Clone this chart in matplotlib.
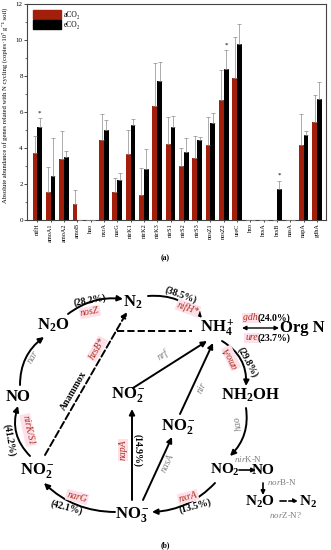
import matplotlib
matplotlib.use("Agg")
import matplotlib.pyplot as plt
import numpy as np
from matplotlib.patches import FancyArrowPatch, Patch

plt.rcParams['font.family'] = ['Liberation Serif', 'DejaVu Serif']
plt.rcParams['mathtext.fontset'] = 'custom'
plt.rcParams['mathtext.rm'] = 'Liberation Serif:bold'
plt.rcParams['mathtext.bf'] = 'Liberation Serif:bold'
plt.rcParams['mathtext.it'] = 'Liberation Serif:italic'

genes = ["nifH", "amoA1", "amoA2", "amoB", "hao", "nxrA", "narG", "nirK1", "nirK2",
         "nirK3", "nirS1", "nirS2", "nirS3", "nosZ1", "nosZ2", "ureC", "hzo", "hzsA",
         "hzsB", "nasA", "napA", "gdhA"]
aco2 = [3.74, 1.55, 3.40, 0.90, 0, 4.43, 1.55, 3.65, 1.37, 6.35, 4.21, 2.98, 3.47,
        4.15, 6.65, 7.88, 0, 0, 0, 0, 4.17, 5.43]
aco2_top = [4.68, 2.95, 4.97, 1.68, 0, 5.87, 2.32, 4.98, 2.88, 8.70, 5.72, 4.02, 4.64,
            5.74, 8.35, 10.15, 0, 0, 0, 0, 5.90, 6.94]
eco2 = [5.16, 2.42, 3.50, 0, 0, 5.00, 2.20, 5.27, 2.85, 7.72, 5.18, 3.76, 4.44,
        5.37, 8.38, 9.80, 0, 0, 1.70, 0, 4.72, 6.74]
eco2_top = [5.66, 4.55, 3.84, 0, 0, 5.55, 2.62, 5.60, 3.94, 8.78, 5.78, 4.55, 4.60,
            5.93, 9.44, 10.90, 0, 0, 2.18, 0, 4.94, 7.65]
signif = ["nifH", "nosZ2", "hzsB"]

W, H = 331, 550
fig = plt.figure(figsize=(W / 100, H / 100), dpi=100)

# ---------------- diagram axes (pixel coords) ----------------
axd = fig.add_axes([0, 0, 1, 1])
axd.set_xlim(0, W)
axd.set_ylim(H, 0)
axd.axis('off')

# ---------------- bar chart ----------------
ax = fig.add_axes([27 / W, 1 - 220 / H, (326 - 27) / W, (220 - 4) / H])
x = np.arange(len(genes))
bw = 0.36
red = '#a31f0c'
a = np.array(aco2); at = np.array(aco2_top)
e = np.array(eco2); et = np.array(eco2_top)
ea = np.where(a > 0, at - a, np.nan)
ee = np.where(e > 0, et - e, np.nan)
ax.bar(x - bw / 2, a, bw, color=red, zorder=2)
ax.bar(x + bw / 2, e, bw, color='black', zorder=2)
ekw = dict(fmt='none', ecolor='#8a8a8a', elinewidth=0.5, capsize=1.3, capthick=0.5, zorder=3)
ax.errorbar(x - bw / 2, a, yerr=[np.zeros_like(a), np.nan_to_num(ea)], **ekw)
ax.errorbar(x + bw / 2, e, yerr=[np.zeros_like(e), np.nan_to_num(ee)], **ekw)
for g in signif:
    i = genes.index(g)
    ax.text(x[i] + bw / 2, et[i] + 0.15, '*', ha='center', va='bottom', fontsize=5)
ax.set_xlim(-0.78, len(genes) - 0.32)
ax.set_ylim(0, 12)
ax.set_yticks(range(0, 13, 2))
ax.set_yticks(range(1, 12, 2), minor=True)
ax.tick_params(axis='y', labelsize=5, length=2, width=0.5, pad=1)
ax.tick_params(axis='y', which='minor', length=1.2, width=0.4)
ax.set_xticks(x)
ax.set_xticklabels(genes, rotation=90, fontsize=4.5)
ax.tick_params(axis='x', length=1.5, width=0.5, pad=1)
for s in ax.spines.values():
    s.set_linewidth(0.8)
    s.set_color('#444444')
ax.set_ylabel('Absolute abundance of genes related with N cycling (copies·10⁷ g⁻¹ soil)',
              fontsize=4.8, labelpad=2)
ax.yaxis.set_label_coords(-0.062, 0.53)
ax.legend(handles=[Patch(color=red, label='aCO₂'), Patch(color='black', label='eCO₂')],
          loc='upper left', fontsize=5.5, frameon=False, handlelength=3.6, handleheight=1.4,
          borderaxespad=0.4, labelspacing=0.15, handletextpad=0.4)

fig.text(165 / W, 1 - 258 / H, '(a)', fontsize=5.5, fontweight='bold', ha='center', va='center')

# ---------------- N cycle diagram ----------------
def sp(xx, yy, s, size=12):
    axd.text(xx, yy, s, ha='center', va='center', fontsize=size, fontweight='bold')

pink = dict(boxstyle='square,pad=0.1', fc='#fde0ea', ec='none')
def gene(xx, yy, s, rot=0, color='#b0301a', bg=True, size=7, ha='center'):
    axd.text(xx, yy, s, ha=ha, va='center', fontsize=size, style='italic', color=color,
             rotation=rot, rotation_mode='anchor', bbox=pink if bg else None)

def pct(xx, yy, s, rot=0, ha='center'):
    axd.text(xx, yy, s, ha=ha, va='center', fontsize=7, fontweight='bold', rotation=rot,
             rotation_mode='anchor')

def arrow(p1, p2, rad=0.0, ls='-', style='-|>', lw=1.4, ms=8):
    axd.add_patch(FancyArrowPatch(p1, p2, connectionstyle=f'arc3,rad={rad}',
                                  arrowstyle=style, mutation_scale=ms, lw=lw, color='black',
                                  linestyle=ls, shrinkA=0, shrinkB=0))

gray = '#808080'
sp(133, 302, 'N$_2$')
sp(53, 325, 'N$_2$O')
sp(217, 328, 'NH$_4^+$')
sp(302, 328, 'Org N')
sp(18, 397, 'NO')
sp(128, 395, 'NO$_2^-$')
sp(178, 427, 'NO$_2^-$')
sp(250, 395, 'NH$_2$OH')
sp(37, 470, 'NO$_2^-$')
sp(132, 515, 'NO$_3^-$')
sp(225, 470, 'NO$_2$', 11)
sp(263, 470, 'NO', 11)
sp(260, 502, 'N$_2$O', 11)
sp(308, 502, 'N$_2$', 11)

arrow((68, 314), (123, 299), rad=-0.2)
arrow((148, 296), (202, 318), rad=-0.25)
arrow((222, 341), (246, 386), rad=-0.3)
arrow((246, 408), (230, 456), rad=-0.25)
arrow((215, 483), (152, 512), rad=-0.2)
arrow((115, 512), (44, 483), rad=-0.2)
arrow((30, 456), (18, 406), rad=-0.3)
arrow((20, 385), (44, 337), rad=-0.25)
arrow((132, 500), (132, 409))
arrow((143, 500), (172, 437))
arrow((133, 388), (207, 341))
arrow((180, 414), (213, 343))
arrow((45, 455), (127, 312), ls='--')
axd.plot([117, 192], [331, 331], color='black', lw=1.4, ls='--')
arrow((242, 328), (279, 328), style='<|-|>', lw=1.0, ms=6)
arrow((239, 470), (256, 470), lw=1.2, ms=6)
arrow((263, 483), (263, 495), lw=1.2, ms=6)
arrow((280, 501), (298, 501), ls='--', lw=1.2, ms=6)

pct(90, 300, '(28.2%)', rot=10)
gene(90, 312, 'nosZ', rot=10)
pct(181, 295, '(38.5%)', rot=-20)
gene(188, 308, 'nifH*', rot=-20)
gene(258, 318, 'gdh', ha='right')
pct(258, 318, '(24.0%)', ha='left')
gene(258, 338, 'ure', ha='right')
pct(258, 338, '(23.7%)', ha='left')
pct(248, 362, '(29.8%)', rot=-62)
gene(231, 358, 'amoA', rot=115)
gene(33, 357, 'nar', rot=60, color=gray, bg=False)
gene(163, 355, 'nrf', rot=33, color=gray, bg=False)
gene(202, 388, 'nir', rot=65, color=gray, bg=False)
gene(168, 463, 'nasA', rot=65, color=gray, bg=False)
gene(238, 423, 'hao', rot=100, color=gray, bg=False)
gene(123, 450, 'napA', rot=90)
pct(137, 450, '(14.9%)', rot=-90)
gene(28, 430, 'nirK/S1', rot=-78)
pct(9, 440, '(41.2%)', rot=-80)
gene(77, 497, 'narG', rot=-15)
pct(67, 508, '(42.1%)', rot=-15)
gene(188, 497, 'nxrA', rot=15)
pct(195, 506, '(13.5%)', rot=15)
axd.text(74, 391, 'Anammox', rotation=60, rotation_mode='anchor', ha='center', va='center',
         fontsize=7, fontweight='bold')
gene(97, 349, 'hzsB*', rot=60)
axd.text(248, 459, '$\\it{nir}$K-N', ha='center', va='center', fontsize=6.5, color=gray)
axd.text(282, 482, '$\\it{nor}$B-N', ha='center', va='center', fontsize=6.5, color=gray)
axd.text(286, 515, '$\\it{nor}$Z-N?', ha='center', va='center', fontsize=6.5, color=gray)
fig.text(165 / W, 1 - 545 / H, '(b)', fontsize=5.5, fontweight='bold', ha='center', va='center')

fig.savefig('out.png', dpi=100)
